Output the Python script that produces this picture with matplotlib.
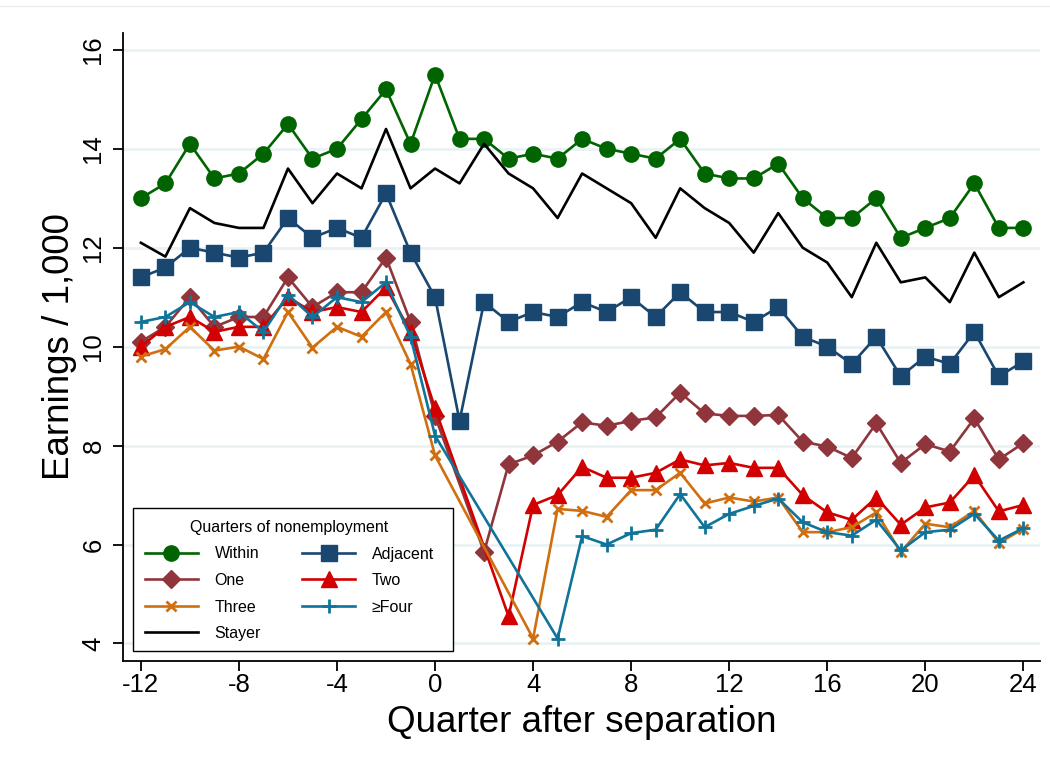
import numpy as np
import matplotlib
matplotlib.use("Agg")
import matplotlib.pyplot as plt
from matplotlib.lines import Line2D
from matplotlib.patches import Rectangle

plt.rcParams['font.family'] = ['Liberation Sans', 'DejaVu Sans']

quarters = list(range(-12, 25))

within = [13.0, 13.3, 14.1, 13.4, 13.5, 13.9, 14.5, 13.8, 14.0, 14.6, 15.2, 14.1, 15.5,
          14.2, 14.2, 13.8, 13.9, 13.8, 14.2, 14.0, 13.9, 13.8, 14.2, 13.5, 13.4, 13.4,
          13.7, 13.0, 12.6, 12.6, 13.0, 12.2, 12.4, 12.6, 13.3, 12.4, 12.4]
adjacent = [11.4, 11.6, 12.0, 11.9, 11.8, 11.9, 12.6, 12.2, 12.4, 12.2, 13.1, 11.9, 11.0,
            8.5, 10.9, 10.5, 10.7, 10.6, 10.9, 10.7, 11.0, 10.6, 11.1, 10.7, 10.7, 10.5,
            10.8, 10.2, 10.0, 9.65, 10.2, 9.4, 9.8, 9.65, 10.3, 9.4, 9.7]
one = [10.1, 10.4, 11.0, 10.4, 10.6, 10.6, 11.4, 10.8, 11.1, 11.1, 11.8, 10.5, 8.6,
       None, 5.85, 7.62, 7.8, 8.08, 8.47, 8.4, 8.5, 8.57, 9.07, 8.65, 8.6, 8.6,
       8.62, 8.08, 7.98, 7.75, 8.45, 7.65, 8.03, 7.88, 8.55, 7.72, 8.05]
two = [10.0, 10.4, 10.6, 10.3, 10.4, 10.4, 11.0, 10.7, 10.8, 10.7, 11.2, 10.3, 8.75,
       None, None, 4.55, 6.8, 7.0, 7.57, 7.35, 7.35, 7.45, 7.72, 7.6, 7.65, 7.55,
       7.55, 7.0, 6.65, 6.5, 6.95, 6.4, 6.75, 6.85, 7.4, 6.67, 6.8]
three = [9.8, 9.95, 10.4, 9.92, 10.0, 9.75, 10.7, 9.98, 10.4, 10.2, 10.7, 9.65, 7.8,
         None, None, None, 4.1, 6.72, 6.68, 6.56, 7.1, 7.1, 7.45, 6.83, 6.95, 6.87,
         6.95, 6.25, 6.25, 6.35, 6.65, 5.85, 6.42, 6.35, 6.68, 6.03, 6.32]
four_plus = [10.5, 10.6, 10.9, 10.6, 10.7, 10.3, 11.05, 10.6, 11.0, 10.9, 11.3, 10.2, 8.2,
             None, None, None, None, 4.1, 6.17, 6.0, 6.23, 6.3, 7.02, 6.35, 6.62, 6.78,
             6.93, 6.45, 6.25, 6.18, 6.5, 5.88, 6.25, 6.3, 6.62, 6.08, 6.33]
stayer = [12.1, 11.82, 12.8, 12.5, 12.4, 12.4, 13.6, 12.9, 13.5, 13.2, 14.4, 13.2, 13.6,
          13.3, 14.1, 13.5, 13.2, 12.6, 13.5, 13.2, 12.9, 12.2, 13.2, 12.8, 12.5, 11.9,
          12.7, 12.0, 11.7, 11.0, 12.1, 11.3, 11.4, 10.9, 11.9, 11.0, 11.3]

labels = ["Within", "Adjacent", "One", "Two", "Three", "\u2265Four", "Stayer"]
x_ticks = list(range(-12, 25, 4))
y_ticks = list(range(4, 17, 2))

styles = [
    dict(color="#006400", marker="o", ms=11),
    dict(color="#1a476f", marker="s", ms=11),
    dict(color="#90353b", marker="D", ms=9.5),
    dict(color="#d20000", marker="^", ms=12),
    dict(color="#cf6f0f", marker="x", ms=7, mew=2),
    dict(color="#10749a", marker="+", ms=10, mew=2),
    dict(color="black", marker=None, ms=0),
]
series = [within, adjacent, one, two, three, four_plus, stayer]

W, H = 1050, 773
fig = plt.figure(figsize=(10.5, 7.73), dpi=100)
ax = fig.add_axes([0.1176, 0.1449, 0.8729, 0.8124])

handles = []
for vals, st, lab in zip(series, styles, labels):
    xs = [q for q, v in zip(quarters, vals) if v is not None]
    ys = [v for v in vals if v is not None]
    kw = dict(color=st["color"], lw=1.9, label=lab)
    if st["marker"]:
        kw.update(marker=st["marker"], markersize=st["ms"], markeredgewidth=st.get("mew", 1.0))
    h, = ax.plot(xs, ys, **kw)
    handles.append(h)

ax.set_xlim(-12.71, 24.68)
ax.set_ylim(3.646, 16.34)
ax.set_xticks(x_ticks)
ax.set_yticks(y_ticks)
ax.set_xticklabels([str(t) for t in x_ticks], fontsize=18.5)
ax.set_yticklabels([str(t) for t in y_ticks], fontsize=18.5, rotation=90, va="center")
ax.tick_params(axis="both", direction="out", length=7, width=1.3, color="black")
ax.tick_params(axis="x", pad=2)
ax.tick_params(axis="y", pad=6)

for s in ["top", "right"]:
    ax.spines[s].set_visible(False)
for s in ["left", "bottom"]:
    ax.spines[s].set_linewidth(1.3)
    ax.spines[s].set_color("black")

ax.yaxis.grid(True, color="#eaf2f3", lw=2)
ax.set_axisbelow(True)

ax.set_ylabel("Earnings / 1,000", fontsize=26.5)
ax.yaxis.set_label_coords(-0.0508, 0.5)
ax.set_xlabel("Quarter after separation", fontsize=26.5)
ax.xaxis.set_label_coords(0.5, -0.070)

# legend frame (drawn inside the axes, above the lines)
frame = Rectangle((133 / W, 1 - 651 / H), 320 / W, 143 / H,
                  transform=fig.transFigure, facecolor="white",
                  edgecolor="black", lw=1.0, zorder=4.5, clip_on=False)
ax.add_patch(frame)

order = [0, 2, 4, 6, 1, 3, 5]
leg = ax.legend([handles[i] for i in order], [labels[i] for i in order],
                ncol=2, loc="upper left", bbox_to_anchor=(145 / W, 1 - 520 / H),
                bbox_transform=fig.transFigure,
                borderaxespad=0, borderpad=0, fontsize=11.5,
                title="Quarters of nonemployment",
                title_fontsize=11.5, handlelength=3.3, handletextpad=1.05,
                columnspacing=2.6, labelspacing=0.72, frameon=False)
leg.set_zorder(6)

fig.add_artist(Line2D([0, 1], [1 - 6 / H, 1 - 6 / H], color="#eeeeee", lw=1,
                      transform=fig.transFigure))

fig.savefig("out.png", dpi=100)
